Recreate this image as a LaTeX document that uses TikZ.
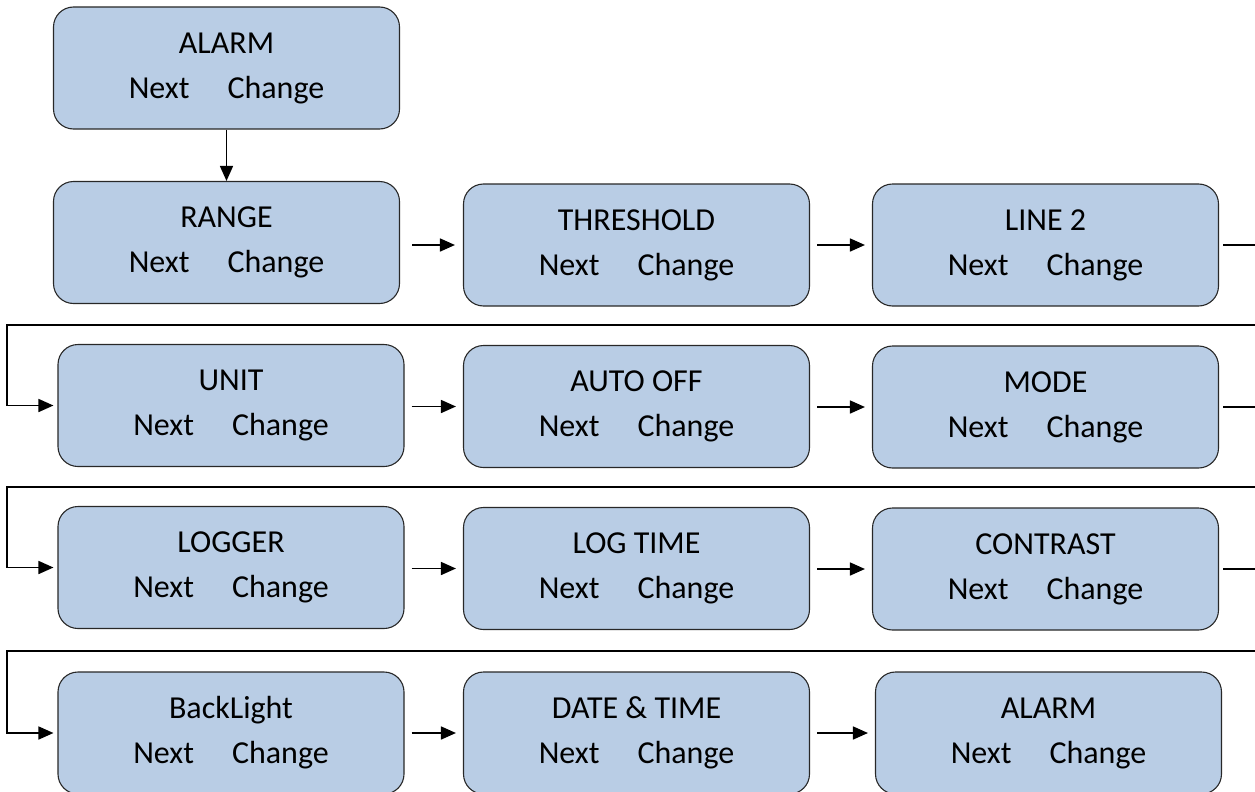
\documentclass[tikz,border=0pt]{standalone}
\usepackage{fontspec}
\setmainfont{Carlito}
\usetikzlibrary{arrows.meta}
\definecolor{boxfill}{RGB}{185,205,229}
\definecolor{boxline}{RGB}{40,40,40}
\begin{document}
\begin{tikzpicture}[x=1pt,y=-1pt,
  menubox/.style={draw=boxline, line width=1.1pt, fill=boxfill, rounded corners=20pt,
    minimum width=346pt, minimum height=122pt, align=center, inner sep=0pt,
    font=\fontsize{32}{45}\selectfont},
  arr/.style={line width=1.6pt, -{Triangle[length=15pt,width=13pt]}}]
\clip (0,0) rectangle (1255,792);
\newcommand{\nc}{Next\hspace{38pt}Change}
% row 0
\node[menubox] (alarm) at (226.5,68) {ALARM\\\nc};
% row 1
\node[menubox] (range) at (226.5,242.5) {RANGE\\\nc};
\node[menubox] (thresh) at (636.5,245) {THRESHOLD\\\nc};
\node[menubox] (line2) at (1045.5,245) {LINE 2\\\nc};
% row 2
\node[menubox] (unit) at (231,405.5) {UNIT\\\nc};
\node[menubox] (autooff) at (636.5,406.5) {AUTO OFF\\\nc};
\node[menubox] (mode) at (1045.5,407) {MODE\\\nc};
% row 3
\node[menubox] (logger) at (231,567.5) {LOGGER\\\nc};
\node[menubox] (logtime) at (636.5,568.5) {LOG TIME\\\nc};
\node[menubox] (contrast) at (1045.5,569) {CONTRAST\\\nc};
% row 4
\node[menubox] (backlight) at (231,733) {BackLight\\\nc};
\node[menubox] (datetime) at (636.5,733) {DATE \& TIME\\\nc};
\node[menubox] (alarm2) at (1048.5,733) {ALARM\\\nc};
% coordinates for the return lines
\coordinate (r1) at (1265,325);
\coordinate (l1) at (7,325);
\coordinate (r2) at (1265,487);
\coordinate (l2) at (7,487);
\coordinate (r3) at (1265,651);
\coordinate (l3) at (7,651);
% connectors
\draw[arr] (alarm.south) -- (range.north);
\draw[arr, shorten <=12pt, shorten >=8pt] (range.east |- thresh.west) -- (thresh.west);
\draw[arr, shorten <=7pt, shorten >=7pt] (thresh.east) -- (line2.west);
\draw[arr, shorten >=4pt] ([xshift=4pt]line2.east) -| (r1) -- (l1) |- (unit.west);
\draw[arr, shorten <=7pt, shorten >=7pt] (unit.east |- autooff.west) -- (autooff.west);
\draw[arr, shorten <=7pt, shorten >=7pt] (autooff.east |- mode.west) -- (mode.west);
\draw[arr, shorten >=4pt] ([xshift=4pt]mode.east) -| (r2) -- (l2) |- (logger.west);
\draw[arr, shorten <=7pt, shorten >=7pt] (logger.east |- logtime.west) -- (logtime.west);
\draw[arr, shorten <=7pt, shorten >=7pt] (logtime.east |- contrast.west) -- (contrast.west);
\draw[arr, shorten >=4pt] ([xshift=4pt]contrast.east) -| (r3) -- (l3) |- (backlight.west);
\draw[arr, shorten <=7pt, shorten >=7pt] (backlight.east |- datetime.west) -- (datetime.west);
\draw[arr, shorten <=7pt, shorten >=7pt] (datetime.east |- alarm2.west) -- (alarm2.west);
\end{tikzpicture}
\end{document}
